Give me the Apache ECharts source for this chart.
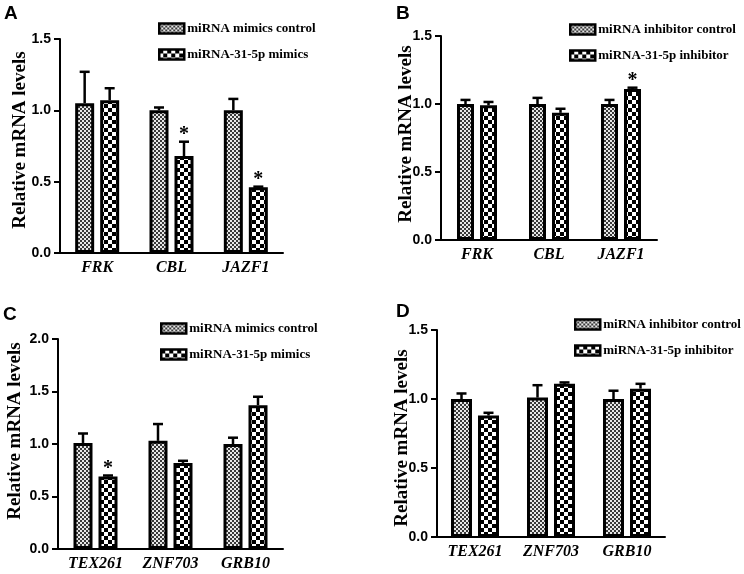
<!DOCTYPE html>
<html>
<head>
<meta charset="utf-8">
<script src="https://cdn.jsdelivr.net/npm/echarts@6/dist/echarts.min.js"></script>
<style>html,body{margin:0;padding:0;background:#fff;}#c{width:744px;height:574px;}</style>
</head>
<body>
<div id="c"></div>
<script>
// ---------- DATA ----------
const catsAB = ['FRK', 'CBL', 'JAZF1'];
const catsCD = ['TEX261', 'ZNF703', 'GRB10'];

const nameMimCtrl = 'miRNA mimics control';
const nameMim = 'miRNA-31-5p mimics';
const nameInhCtrl = 'miRNA inhibitor control';
const nameInh = 'miRNA-31-5p inhibitor';

// Panel A
const aCtrl = [1.05, 1.00, 1.00];
const aCtrlErr = [0.22, 0.02, 0.08];
const aMim = [1.07, 0.68, 0.46];
const aMimErr = [0.085, 0.10, 0.005];
const aStar = [0, 1, 1];
// Panel B
const bCtrl = [1.00, 1.00, 1.00];
const bCtrlErr = [0.03, 0.045, 0.03];
const bInh = [0.99, 0.935, 1.11];
const bInhErr = [0.025, 0.03, 0.01];
const bStar = [0, 0, 1];
// Panel C
const cCtrl = [1.01, 1.03, 1.00];
const cCtrlErr = [0.09, 0.16, 0.06];
const cMim = [0.69, 0.82, 1.37];
const cMimErr = [0.01, 0.02, 0.08];
const cStar = [1, 0, 0];
// Panel D
const dCtrl = [1.00, 1.01, 1.00];
const dCtrlErr = [0.04, 0.09, 0.06];
const dInh = [0.88, 1.11, 1.075];
const dInhErr = [0.02, 0.01, 0.035];
const dStar = [0, 0, 0];

const yMaxAB = 1.5, yMaxC = 2.0, yMaxD = 1.5;

// ---------- PATTERNS ----------
function makePattern(cell, dark, light) {
  const cv = document.createElement('canvas');
  cv.width = cell * 2; cv.height = cell * 2;
  const g = cv.getContext('2d');
  g.fillStyle = light; g.fillRect(0, 0, cell * 2, cell * 2);
  g.fillStyle = dark;
  g.fillRect(0, 0, cell, cell);
  g.fillRect(cell, cell, cell, cell);
  return { image: cv, repeat: 'repeat' };
}
const fineFill = makePattern(2, '#3a3a3a', '#e8e8e8');
const coarseFill = makePattern(4, '#000000', '#ffffff');

// ---------- HELPERS ----------
const serif = '"Liberation Serif", "Times New Roman", serif';
const sans = '"Liberation Sans", Arial, sans-serif';

const panels = [
  { grid: { left: 60, top: 39, width: 223, height: 214 }, cats: catsAB, max: yMaxAB, nameGap: 30, namePad: [0, 0, 0, 12], bw: 19,
    s1: nameMimCtrl, s2: nameMim, v1: aCtrl, e1: aCtrlErr, v2: aMim, e2: aMimErr, star: aStar,
    legend: { left: 158, top: 22 }, letter: { t: 'A', left: 4, top: 4 } },
  { grid: { left: 441, top: 36, width: 216, height: 204 }, cats: catsAB, max: yMaxAB, nameGap: 25, namePad: [0, 0, 0, 8], bw: 17,
    s1: nameInhCtrl, s2: nameInh, v1: bCtrl, e1: bCtrlErr, v2: bInh, e2: bInhErr, star: bStar,
    legend: { left: 569, top: 23 }, letter: { t: 'B', left: 396, top: 4 } },
  { grid: { left: 58, top: 339, width: 225, height: 210 }, cats: catsCD, max: yMaxC, nameGap: 33, namePad: [0, 0, 0, 26], bw: 19,
    s1: nameMimCtrl, s2: nameMim, v1: cCtrl, e1: cCtrlErr, v2: cMim, e2: cMimErr, star: cStar,
    legend: { left: 160, top: 322 }, letter: { t: 'C', left: 3, top: 305 } },
  { grid: { left: 437, top: 330, width: 228, height: 207 }, cats: catsCD, max: yMaxD, nameGap: 25, namePad: [0, 9, 0, 0], bw: 21,
    s1: nameInhCtrl, s2: nameInh, v1: dCtrl, e1: dCtrlErr, v2: dInh, e2: dInhErr, star: dStar,
    legend: { left: 574, top: 318 }, letter: { t: 'D', left: 396, top: 302 } }
];

const GAP = 6;

function errRender(offset) {
  return function (params, api) {
    const c = api.value(0), v = api.value(1), e = api.value(2), s = api.value(3);
    const p0 = api.coord([c, v]);
    const p1 = api.coord([c, v + e]);
    const x = p0[0] + offset;
    const children = [
      { type: 'line', shape: { x1: x, y1: p0[1], x2: x, y2: p1[1] }, style: { stroke: '#000', lineWidth: 2.5 } },
      { type: 'line', shape: { x1: x - 5, y1: p1[1], x2: x + 5, y2: p1[1] }, style: { stroke: '#000', lineWidth: 2.5 } }
    ];
    if (s) {
      children.push({ type: 'text', style: { x: x, y: p1[1] + 3, text: '*', textAlign: 'center', textVerticalAlign: 'bottom',
        font: 'bold 20px ' + serif, fill: '#000' } });
    }
    return { type: 'group', children: children };
  };
}

const option = { animation: false, backgroundColor: '#fff', grid: [], xAxis: [], yAxis: [], series: [], legend: [], title: [] };

panels.forEach(function (p, i) {
  option.grid.push(Object.assign({ containLabel: false }, p.grid));
  option.xAxis.push({
    type: 'category', gridIndex: i, data: p.cats,
    axisLine: { lineStyle: { color: '#000', width: 2 } },
    axisTick: { alignWithLabel: true, length: 5, lineStyle: { color: '#000', width: 2 } },
    axisLabel: { color: '#000', fontFamily: serif, fontWeight: 'bold', fontStyle: 'italic', fontSize: 16, margin: 7 }
  });
  option.yAxis.push({
    type: 'value', gridIndex: i, min: 0, max: p.max, interval: 0.5,
    name: 'Relative mRNA levels', nameLocation: 'middle', nameGap: p.nameGap, nameMoveOverlap: false,
    nameTextStyle: { color: '#000', fontFamily: serif, fontWeight: 'bold', fontSize: 19, padding: p.namePad },
    axisLine: { show: true, lineStyle: { color: '#000', width: 2 } },
    axisTick: { show: true, length: 6, lineStyle: { color: '#000', width: 2 } },
    axisLabel: { color: '#000', fontFamily: sans, fontWeight: 'bold', fontSize: 14, margin: 9,
      formatter: function (v) { return v.toFixed(1); } },
    splitLine: { show: false }
  });
  const barGap = (GAP / p.bw * 100).toFixed(1) + '%';
  option.series.push({
    type: 'bar', name: p.s1, xAxisIndex: i, yAxisIndex: i, data: p.v1, barWidth: p.bw, barGap: barGap,
    itemStyle: { color: fineFill, borderColor: '#000', borderWidth: 3 }, z: 2
  });
  option.series.push({
    type: 'bar', name: p.s2, xAxisIndex: i, yAxisIndex: i, data: p.v2, barWidth: p.bw, barGap: barGap,
    itemStyle: { color: coarseFill, borderColor: '#000', borderWidth: 3 }, z: 2
  });
  const off = (p.bw + GAP) / 2;
  option.series.push({
    type: 'custom', name: 'err1_' + i, xAxisIndex: i, yAxisIndex: i, z: 3,
    renderItem: errRender(-off),
    data: p.v1.map(function (v, k) { return [k, v, p.e1[k], 0]; })
  });
  option.series.push({
    type: 'custom', name: 'err2_' + i, xAxisIndex: i, yAxisIndex: i, z: 3,
    renderItem: errRender(off),
    data: p.v2.map(function (v, k) { return [k, v, p.e2[k], p.star[k]]; })
  });
  option.legend.push({
    orient: 'vertical', left: p.legend.left, top: p.legend.top, itemGap: 13, padding: 0,
    itemWidth: 25, itemHeight: 10, icon: 'rect', selectedMode: false,
    data: [p.s1, p.s2],
    itemStyle: { borderColor: '#000', borderWidth: 2.5 },
    textStyle: { color: '#000', fontFamily: serif, fontWeight: 'bold', fontSize: 13, padding: [0, 0, 0, -2] }
  });
  option.title.push({
    text: p.letter.t, left: p.letter.left, top: p.letter.top, padding: 0,
    textStyle: { color: '#000', fontFamily: sans, fontWeight: 'bold', fontSize: 19 }
  });
});

const chart = echarts.init(document.getElementById('c'), null, { renderer: 'canvas' });
chart.setOption(option);
</script>
</body>
</html>
